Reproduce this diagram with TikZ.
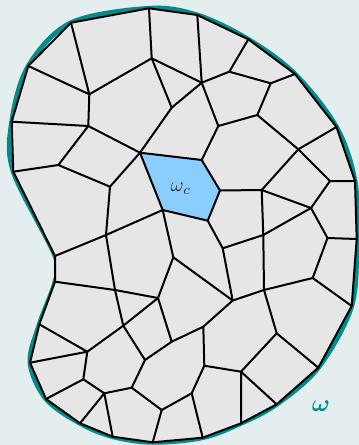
\documentclass[tikz,border=0pt]{standalone}
\usepackage{amsmath,amssymb}
\usepackage{tikz}
\definecolor{bgcol}{RGB}{228,238,238}
\definecolor{cellgray}{RGB}{230,230,230}
\definecolor{domteal}{RGB}{0,140,140}
\definecolor{cellblue}{RGB}{138,206,255}

\begin{document}
\begin{tikzpicture}[x=0.5pt,y=-0.5pt,
  mesh/.style={line width=1pt,line join=round,line cap=round},
  bdry/.style={domteal,line width=2.4pt}]
\useasboundingbox (0,0) rectangle (359,445);
\fill[bgcol] (0,0) rectangle (359,445);

% boundary vertices
\coordinate (b1) at (71,22.7); \coordinate (b2) at (149,8.3); \coordinate (b3) at (197.3,15);
\coordinate (b4) at (248.3,39.3); \coordinate (b5) at (295,74); \coordinate (b6) at (336.5,127);
\coordinate (b7) at (355,181); \coordinate (b8) at (356.7,239); \coordinate (b9) at (351.7,306);
\coordinate (b10) at (318.3,367.7); \coordinate (b11) at (276.7,404.3); \coordinate (b12) at (241,423.3);
\coordinate (b13) at (202.7,437.7); \coordinate (b14) at (152.7,442.3); \coordinate (b15) at (112.7,436.7);
\coordinate (b16) at (80,423.3); \coordinate (b17) at (46,399); \coordinate (b18) at (30,362.7);
\coordinate (b19) at (39.3,324.3); \coordinate (b20) at (55,281.7); \coordinate (b21) at (55,256);
\coordinate (b22) at (13.3,171.7); \coordinate (b23) at (11.7,121.7); \coordinate (b24) at (28.3,66);

% inner vertices
\coordinate (a1) at (89.3,94.3); \coordinate (a2) at (151.7,58.3); \coordinate (a3) at (201.7,82.7);
\coordinate (a4) at (229.3,71.7); \coordinate (a5) at (270.7,83.3); \coordinate (a6) at (257.3,115);
\coordinate (a7) at (298.3,149.3); \coordinate (a8) at (218.3,126); \coordinate (a9) at (171.7,107.7);
\coordinate (a10) at (140,152.7); \coordinate (a11) at (88.3,126); \coordinate (a12) at (58.3,165);
\coordinate (a13) at (110,186.7); \coordinate (a14) at (106,235); \coordinate (a15) at (162.7,210);
\coordinate (a16) at (201.7,160); \coordinate (a17) at (220,190.5); \coordinate (a18) at (207.7,220.7);
\coordinate (a19) at (261.7,190); \coordinate (a20) at (311,208); \coordinate (a21) at (330,181);
\coordinate (a22) at (327.5,238); \coordinate (a23) at (312.7,278); \coordinate (a24) at (263.3,235);
\coordinate (a25) at (222.7,248.3); \coordinate (a26) at (264,290); \coordinate (a27) at (232.7,300.5);
\coordinate (a28) at (173.3,257.3); \coordinate (a29) at (158,298); \coordinate (a30) at (115,290);
\coordinate (a31) at (123.3,325.7); \coordinate (a32) at (87.3,351.7); \coordinate (a33) at (83.3,379.3);
\coordinate (a34) at (104.3,393.3); \coordinate (a35) at (131.7,387.7); \coordinate (a36) at (145,360);
\coordinate (a37) at (171.7,341.7); \coordinate (a38) at (161.7,410); \coordinate (a39) at (191.7,393.3);
\coordinate (a40) at (204.3,365.7); \coordinate (a41) at (203.3,326.7); \coordinate (a42) at (241,371.7);
\coordinate (a43) at (276.7,333.3);

% domain
\draw[bdry] plot[smooth cycle,tension=0.55] coordinates {(b1) (b2) (b3) (b4) (b5) (b6) (b7) (b8) (b9) (b10) (b11) (b12) (b13) (b14) (b15) (b16) (b17) (b18) (b19) (b20) (b21) (b22) (b23) (b24)};
\fill[cellgray] (b1)--(b2)--(b3)--(b4)--(b5)--(b6)--(b7)--(b8)--(b9)--(b10)--(b11)--(b12)--(b13)--(b14)--(b15)--(b16)--(b17)--(b18)--(b19)--(b20)--(b21)--(b22)--(b23)--(b24)--cycle;
\fill[cellblue] (a10)--(a16)--(a17)--(a18)--(a15)--cycle;

% mesh
\draw[mesh] (b1)--(b2)--(b3)--(b4)--(b5)--(b6)--(b7)--(b8)--(b9)--(b10)--(b11)--(b12)--(b13)--(b14)--(b15)--(b16)--(b17)--(b18)--(b19)--(b20)--(b21)--(b22)--(b23)--(b24)--cycle;
\draw[mesh] (b1)--(a1)--(a2)--(a3)--(a4)--(a5)--(a6)--(a7)--(a21)--(b7);
\draw[mesh] (b24)--(a1)--(a11)--(a12)--(a13)--(a14)--(a30)--(a31)--(a32)--(a33)--(a34)--(a35)--(a38)--(a39)--(a40)--(a42)--(a43)--(a26)--(a24)--(a19)--(a17);
\draw[mesh] (b2)--(a2)--(a9)--(a10)--(a11)--(b23);
\draw[mesh] (b3)--(a3)--(a9) (a3)--(a8)--(a16)--(a10)--(a13);
\draw[mesh] (b4)--(a4) (b5)--(a5) (a6)--(a8) (b6)--(a7)--(a19)--(a20)--(a21);
\draw[mesh] (b22)--(a12) (b21)--(a14)--(a15)--(a10);
\draw[mesh] (a16)--(a17)--(a18)--(a15)--(a28)--(a29)--(a30)--(b20);
\draw[mesh] (a18)--(a25)--(a27)--(a28) (a25)--(a24)--(a20)--(a22)--(b8);
\draw[mesh] (a22)--(a23)--(b9) (a23)--(a26)--(a27)--(a41)--(a37)--(a29)--(a31);
\draw[mesh] (a31)--(a36)--(a37) (a36)--(a35) (a41)--(a40) (a32)--(b19) (a32)--(b18) (a33)--(b17);
\draw[mesh] (b16)--(a34)--(b15) (b14)--(a38) (a39)--(b13) (b12)--(a42)--(b11) (a43)--(b10);

% labels
\node[text=black!80] (omc) at (181,189) {$\omega_c$};
\node[text=domteal] (om) at (321,406) {\large$\boldsymbol{\omega}$};
\end{tikzpicture}
\end{document}
